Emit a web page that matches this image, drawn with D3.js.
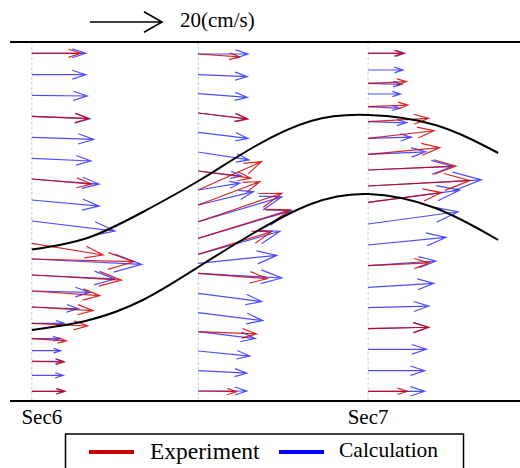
<!DOCTYPE html>
<html>
<head>
<meta charset="utf-8">
<script src="https://cdn.jsdelivr.net/npm/d3@7"></script>
<style>
  body { margin: 0; background: white; }
  svg { display: block; font-family: "Liberation Serif", "Times New Roman", serif; }
</style>
</head>
<body>
<div id="chart"></div>
<script>
// section positions along the channel (Sec6 = 0, Sec7 = 100)
const sections = [
	{ name: "Sec6", x: 0 },
	{ name: "", x: 49.5 },
	{ name: "Sec7", x: 100 }
]

// [depth, u (cm/s), w (cm/s)]  -- calculation
const sec6Calc = [
	[1.13, 15.0, 0], [3.27, 15.0, 0], [5.33, 15.4, -0.2], [7.43, 16.1, -0.7],
	[9.53, 17.2, -0.6], [11.63, 16.4, -0.75], [13.7, 18.7, -1.4], [15.8, 18.7, -1.7],
	[17.9, 23.1, -2.8], [21.7, 30.5, -1.5], [23.3, 23.1, -1.1], [24.9, 16.1, -0.4],
	[26.5, 12.9, -0.5], [28.13, 9.0, 0], [29.67, 7.8, 0], [30.87, 8.0, 0],
	[31.93, 8.7, 0], [33.33, 8.7, 0], [34.93, 9.0, 0]
]
const sec6Exp = [
	[1.13, 13.6, 0], [7.43, 15.9, -0.6], [13.7, 16.6, -1.4], [20.13, 19.8, -3.25],
	[21.7, 28.3, -0.75], [23.3, 24.9, -1.4], [24.9, 18.9, -1.3], [26.5, 17.0, -1.0],
	[28.13, 15.5, -0.75], [29.67, 9.6, -0.6], [31.93, 9.0, -0.2], [34.93, 9.2, 0]
]
const midCalc = [
	[1.2, 13.8, 0], [3.27, 13.6, -0.55], [5.17, 13.6, -1.0], [7.1, 13.5, -1.6],
	[9.03, 13.8, -1.7], [11.0, 14.1, -2.2], [12.9, 12.0, -1.4], [14.8, 11.6, 1.9],
	[16.3, 15.3, 3.7], [17.97, 23.2, 6.9], [19.63, 25.9, 7.7], [21.23, 22.7, 6.4],
	[22.13, 21.8, 2.2], [23.13, 23.2, -1.3], [25.13, 17.6, -2.3], [27.07, 17.9, -2.2],
	[28.97, 15.8, -1.9], [30.9, 14.3, -1.4], [32.87, 13.5, -0.7], [34.9, 13.5, 0]
]
const midExp = [
	[1.2, 11.5, -0.8], [7.1, 13.8, -1.7], [12.9, 14.6, -2.0], [14.8, 17.6, 7.9],
	[16.3, 17.1, 6.5], [17.97, 23.2, 7.9], [19.63, 25.5, 7.9], [21.23, 20.4, 6.3],
	[23.13, 19.2, -1.5], [28.97, 16.2, -0.6], [34.9, 10.7, -0.2]
]
const sec7Calc = [
	[1.13, 10.2, 0], [2.8, 9.7, 0], [4.13, 9.3, -0.3], [5.2, 9.0, 0],
	[6.47, 8.8, -0.45], [7.97, 10.7, -0.3], [9.63, 12.0, 0.3], [11.23, 16.0, 0.7],
	[12.8, 23.5, 1.0], [14.4, 31.5, 1.7], [16.03, 25.5, 3.4], [18.2, 25.0, 3.4],
	[20.3, 21.6, 2.1], [22.37, 18.8, 1.3], [24.53, 18.3, 1.1], [26.57, 16.9, 0.45],
	[28.67, 16.7, 0.4], [30.73, 16.2, 0], [32.87, 15.7, 0], [34.93, 15.7, 0]
]
const sec7Exp = [
	[1.13, 9.7, 0], [4.13, 10.7, 0.45], [6.47, 11.1, 0.45], [7.97, 16.9, 0.9],
	[9.63, 18.3, 2.1], [11.23, 19.9, 1.85], [12.8, 24.4, 1.1], [14.4, 28.3, 1.5],
	[16.03, 20.4, 2.7], [22.37, 17.1, 0.8], [28.67, 16.9, 0.4], [34.93, 10.9, 0]
]

// boundary curves [x, depth]
const upperCurve = [
	[0, 20.75], [16.5, 19.6], [33, 17.0], [49.5, 13.9], [66, 10.5],
	[83, 7.9], [100, 7.3], [120, 8.3], [138.7, 11.1]
]
const lowerCurve = [
	[0, 28.8], [16.5, 27.85], [33, 25.8], [49.5, 22.5], [66, 19.1],
	[83, 16.2], [100, 15.2], [120, 16.6], [138.7, 19.8]
]

const refSpeed = 20
const refLabel = "20(cm/s)"
const legendItems = [
	{ label: "Experiment", color: "#cc0000" },
	{ label: "Calculation", color: "#0000ff" }
]

const width = 520, height = 468

const x = d3.scaleLinear().domain([-6.5, 145]).range([10, 519.4])
const y = d3.scaleLinear().domain([0, 35.9]).range([42, 401])
const speed = d3.scaleLinear().domain([0, refSpeed]).range([0, 72])

const svg = d3.select("#chart").append("svg")
	.attr("width", width)
	.attr("height", height)

// arrow path, open v head like matlab quiver
function arrowPath(x0, y0, dx, dy, alpha, beta) {
	const x1 = x0 + dx, y1 = y0 + dy
	const ax = x1 - alpha * (dx + beta * dy), ay = y1 - alpha * (dy - beta * dx)
	const bx = x1 - alpha * (dx - beta * dy), by = y1 - alpha * (dy + beta * dx)
	return `M${x0},${y0}L${x1},${y1}M${ax},${ay}L${x1},${y1}L${bx},${by}`
}

// section dashed lines
svg.selectAll("line.sec")
	.data(sections)
	.enter()
	.append("line")
	.attr("class", "sec")
	.attr("x1", d => x(d.x))
	.attr("x2", d => x(d.x))
	.attr("y1", y(0))
	.attr("y2", y(35.9))
	.attr("stroke", "#cccccc")
	.attr("stroke-width", 1)
	.attr("stroke-dasharray", "3,2")

// top and bottom frame lines
svg.selectAll("line.frame")
	.data([0, 35.9])
	.enter()
	.append("line")
	.attr("class", "frame")
	.attr("x1", x(-6.5))
	.attr("x2", width)
	.attr("y1", d => y(d))
	.attr("y2", d => y(d))
	.attr("stroke", "black")
	.attr("stroke-width", 2)

function drawArrows(rows, secX, color, opacity) {
	svg.append("g")
		.selectAll("path")
		.data(rows)
		.enter()
		.append("path")
		.attr("d", d => arrowPath(x(secX), y(d[0]), speed(d[1]), -speed(d[2]), 0.25, 0.33))
		.attr("fill", "none")
		.attr("stroke", color)
		.attr("stroke-opacity", opacity)
		.attr("stroke-width", 1.2)
}

drawArrows(sec6Calc, sections[0].x, "#0000ff", 0.7)
drawArrows(midCalc, sections[1].x, "#0000ff", 0.7)
drawArrows(sec7Calc, sections[2].x, "#0000ff", 0.7)
drawArrows(sec6Exp, sections[0].x, "#d00000", 0.85)
drawArrows(midExp, sections[1].x, "#d00000", 0.85)
drawArrows(sec7Exp, sections[2].x, "#d00000", 0.85)

// boundary curves
const line = d3.line()
	.x(d => x(d[0]))
	.y(d => y(d[1]))
	.curve(d3.curveNatural)

svg.selectAll("path.curve")
	.data([upperCurve, lowerCurve])
	.enter()
	.append("path")
	.attr("class", "curve")
	.attr("d", line)
	.attr("fill", "none")
	.attr("stroke", "black")
	.attr("stroke-width", 2)

// reference arrow
svg.append("path")
	.attr("d", arrowPath(90, 22, speed(refSpeed), 0, 0.25, 0.57))
	.attr("fill", "none")
	.attr("stroke", "black")
	.attr("stroke-width", 1.6)

svg.append("text")
	.attr("x", 180)
	.attr("y", 27)
	.style("font-size", "21px")
	.text(refLabel)

// section labels
svg.selectAll("text.sec")
	.data(sections.filter(d => d.name))
	.enter()
	.append("text")
	.attr("class", "sec")
	.attr("x", d => x(d.x))
	.attr("dx", d => d.x === 0 ? 10 : 0)
	.attr("y", 424)
	.attr("text-anchor", "middle")
	.style("font-size", "21px")
	.text(d => d.name)

// legend
svg.append("rect")
	.attr("x", 65.5)
	.attr("y", 434)
	.attr("width", 398)
	.attr("height", 50)
	.attr("fill", "white")
	.attr("stroke", "black")
	.attr("stroke-width", 1.5)

const legendX = [89, 279]
const legend = svg.selectAll("g.legend")
	.data(legendItems)
	.enter()
	.append("g")
	.attr("class", "legend")
	.attr("transform", (d, i) => `translate(${legendX[i]},452)`)

legend.append("line")
	.attr("x1", 0)
	.attr("x2", 45)
	.attr("stroke", d => d.color)
	.attr("stroke-width", 4)

legend.append("text")
	.attr("x", (d, i) => i === 0 ? 61 : 60)
	.attr("y", (d, i) => i === 0 ? 6.5 : 4.5)
	.style("font-size", (d, i) => i === 0 ? "23.5px" : "21.5px")
	.text(d => d.label)
</script>
</body>
</html>
